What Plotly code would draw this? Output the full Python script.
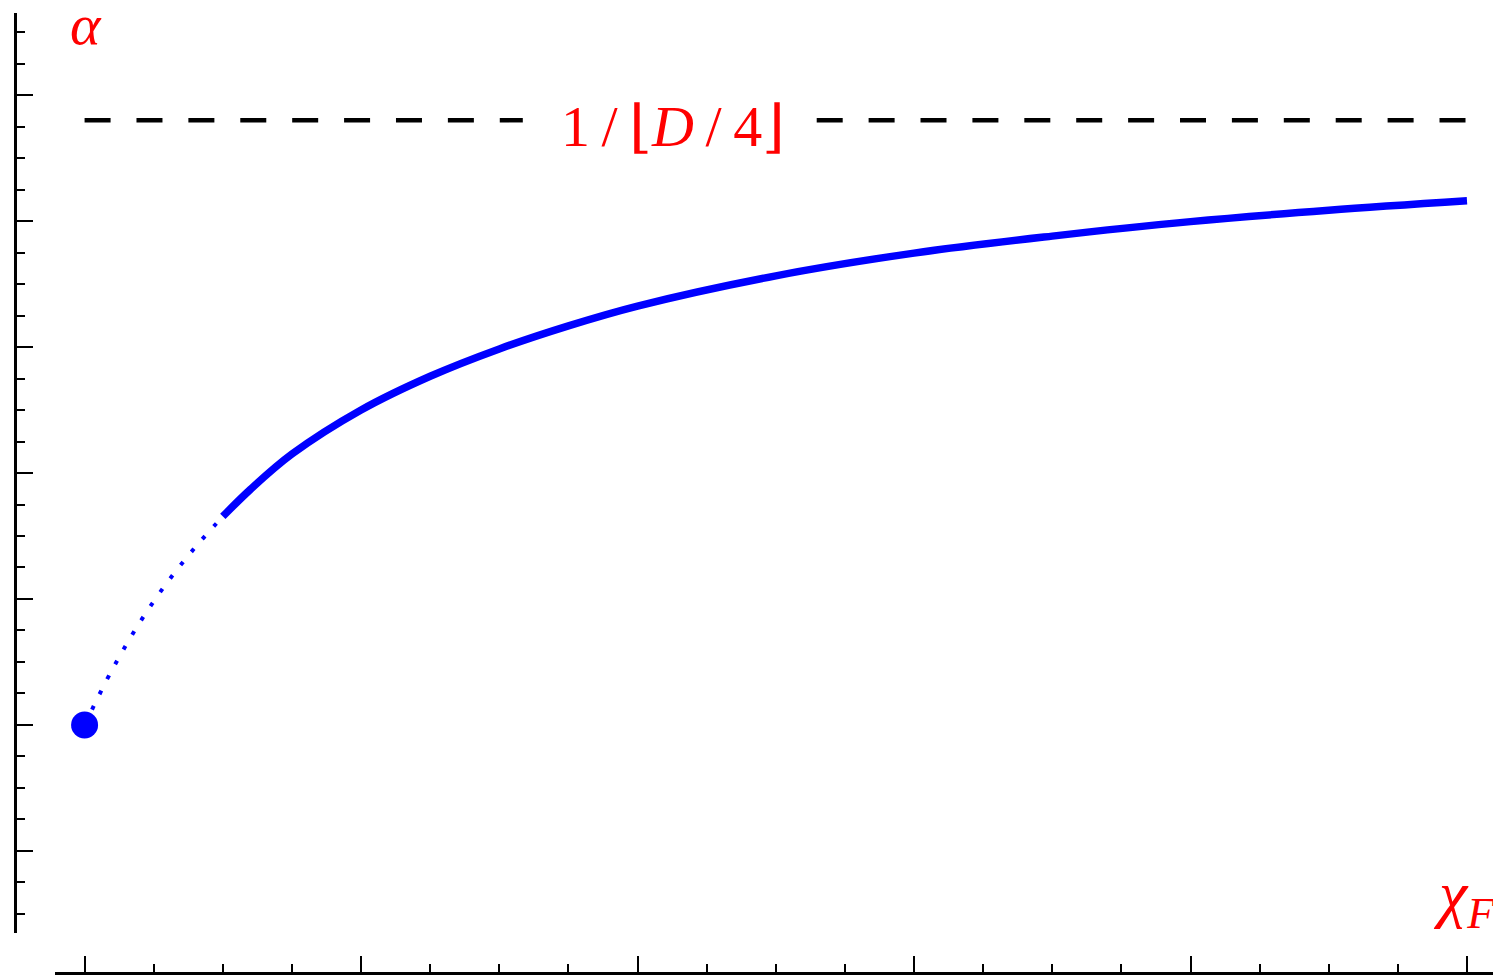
import plotly.graph_objects as go

# ---- data (arbitrary units: one major tick = 1) ----
dotted_x = [0.0, 0.1, 0.2, 0.3, 0.4, 0.5]
dotted_y = [1.0, 1.44, 1.815, 2.135, 2.41, 2.655]

solid_x = [0.5, 0.6, 0.75, 1.0, 1.25, 1.5, 1.75, 2.0, 2.5, 3.0, 3.5, 4.0, 4.5, 5.0]
solid_y = [2.655, 2.87, 3.15, 3.50, 3.768, 3.985, 4.168, 4.325, 4.565, 4.745,
           4.88, 4.995, 5.085, 5.16]

start_x = [0.0]
start_y = [1.0]

bound_value = 5.8
bound_left_x = [0.0, 1.585]
bound_right_x = [2.648, 5.0]

label_alpha = "<i>α</i>"
label_chi = "<i>χ</i><sub><i>F</i></sub>"
label_bound = "1\u2009/\u2009⌊<i>D</i>\u2009/\u20094⌋"

RED = "#ff0000"
BLUE = "#0000ff"
FONT = "Liberation Serif, Tinos, Times New Roman, DejaVu Serif, serif"

fig = go.Figure()

fig.add_trace(go.Scatter(x=bound_left_x, y=[bound_value] * len(bound_left_x), mode="lines",
                         line=dict(color="black", width=4.5, dash="26px,25.9px"),
                         hoverinfo="skip", showlegend=False))
fig.add_trace(go.Scatter(x=bound_right_x, y=[bound_value] * len(bound_right_x), mode="lines",
                         line=dict(color="black", width=4.5, dash="26px,25.9px"),
                         hoverinfo="skip", showlegend=False))
fig.add_trace(go.Scatter(x=dotted_x, y=dotted_y, mode="lines",
                         line=dict(color=BLUE, width=4, dash="4px,13px", shape="spline"),
                         showlegend=False))
fig.add_trace(go.Scatter(x=solid_x, y=solid_y, mode="lines",
                         line=dict(color=BLUE, width=7.5, shape="spline", smoothing=1),
                         showlegend=False))
fig.add_trace(go.Scatter(x=start_x, y=start_y, mode="markers",
                         marker=dict(color=BLUE, size=27, line=dict(width=0)),
                         cliponaxis=False, showlegend=False))

fig.add_annotation(x=0.005, y=6.56, xref="x", yref="y", text=label_alpha,
                   showarrow=False, xanchor="center", yanchor="middle",
                   font=dict(family=FONT, size=58, color=RED))
fig.add_annotation(x=2.127, y=5.75, xref="x", yref="y", text=label_bound,
                   showarrow=False, xanchor="center", yanchor="middle",
                   font=dict(family=FONT, size=58, color=RED))
fig.add_annotation(x=4.99, y=-0.37, xref="x", yref="y", text=label_chi,
                   showarrow=False, xanchor="center", yanchor="middle",
                   font=dict(family=FONT, size=64, color=RED))

# the page body adds an 8px offset; the figure is sized to fill the rest
OFF = 8
W, H = 1501 - OFF, 976 - OFF
ml, mr, mt, mb = 15 - OFF, 0, 13 - OFF, 3
pw, ph = W - ml - mr, H - mt - mb

fig.update_layout(
    width=W, height=H,
    margin=dict(l=ml, r=mr, t=mt, b=mb, pad=0, autoexpand=False),
    paper_bgcolor="white", plot_bgcolor="white",
    showlegend=False,
    xaxis=dict(domain=[(55 - 15) / pw, 1], anchor="free", position=0,
               automargin=False,
               range=[-0.107, 5.123], showgrid=False, zeroline=False,
               showline=True, linecolor="black", linewidth=3,
               tickmode="linear", tick0=0, dtick=1, ticks="inside",
               ticklen=16, tickwidth=2, tickcolor="black", showticklabels=False,
               minor=dict(dtick=0.25, tick0=0, ticks="inside", ticklen=8,
                          tickwidth=2, tickcolor="black", showgrid=False)),
    yaxis=dict(domain=[(973 - 933) / ph, 1], anchor="free", position=0,
               automargin=False,
               range=[-0.651, 6.651], showgrid=False, zeroline=False,
               showline=True, linecolor="black", linewidth=3,
               tickmode="linear", tick0=0, dtick=1, ticks="inside",
               ticklen=16, tickwidth=2, tickcolor="black", showticklabels=False,
               minor=dict(dtick=0.25, tick0=0, ticks="inside", ticklen=8,
                          tickwidth=2, tickcolor="black", showgrid=False)),
)

fig.write_html("out.html")
